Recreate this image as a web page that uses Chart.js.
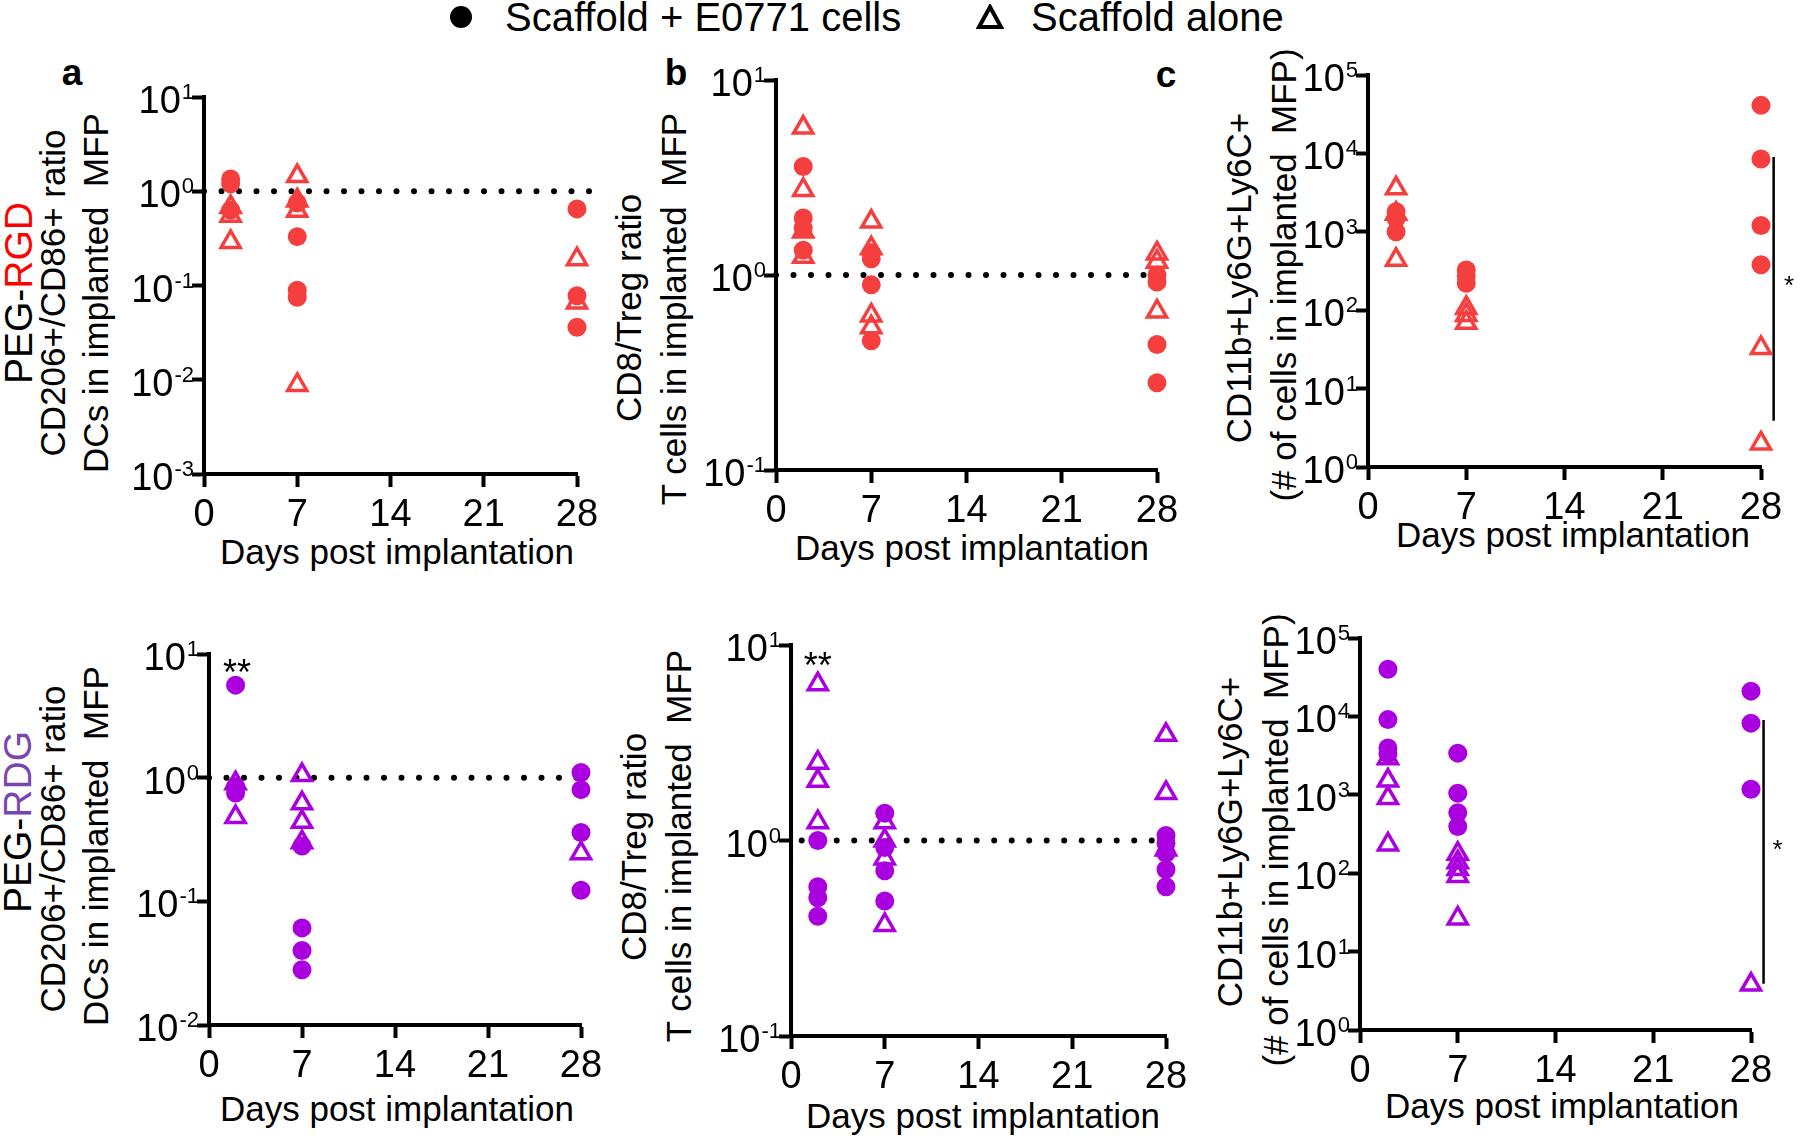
<!DOCTYPE html>
<html>
<head>
<meta charset="utf-8">
<script src="https://cdn.jsdelivr.net/npm/chart.js@4.4.1/dist/chart.umd.min.js"></script>
<style>
html, body { margin: 0; padding: 0; background: #fff; width: 1800px; height: 1138px; overflow: hidden; }
body { position: relative; font-family: "Liberation Sans", Arial, sans-serif; color: #000; }
canvas { position: absolute; }
.t { position: absolute; white-space: pre; line-height: 1; }
.rot { transform: translate(-50%, -50%) rotate(-90deg); }
.hz { transform: translate(-50%, -50%); }
.lft { transform: translate(0, -50%); }
</style>
</head>
<body>

<div id="legend-dot" style="position:absolute;left:450px;top:6px;width:22px;height:22px;border-radius:50%;background:#000;"></div>
<div class="t lft" style="left:505px;top:17px;font-size:40px;">Scaffold + E0771 cells</div>
<svg style="position:absolute;left:976px;top:4px;" width="28" height="26"><polygon points="14,3 25,23 3,23" fill="none" stroke="#000" stroke-width="4"/></svg>
<div class="t lft" style="left:1031px;top:17px;font-size:40px;">Scaffold alone</div>

<div class="t hz" style="left:72px;top:72px;font-size:37px;font-weight:bold;">a</div>
<div class="t hz" style="left:676px;top:72px;font-size:37px;font-weight:bold;">b</div>
<div class="t hz" style="left:1166px;top:74px;font-size:37px;font-weight:bold;">c</div>

<div class="t rot" style="left:18px;top:293px;font-size:39px;">PEG-<span style="color:#ff0000">RGD</span></div>
<div class="t rot" style="left:52px;top:293px;font-size:35px;">CD206+/CD86+ ratio</div>
<div class="t rot" style="left:95px;top:293px;font-size:35px;">DCs in implanted  MFP</div>
<div class="t rot" style="left:628px;top:308px;font-size:35px;">CD8/Treg ratio</div>
<div class="t rot" style="left:673px;top:309px;font-size:35px;">T cells in implanted  MFP</div>
<div class="t rot" style="left:1238px;top:278px;font-size:35px;">CD11b+Ly6G+Ly6C+</div>
<div class="t rot" style="left:1283px;top:275px;font-size:35px;">(# of cells in implanted  MFP)</div>

<div class="t rot" style="left:17px;top:822px;font-size:39px;">PEG-<span style="color:#7b45b0">RDG</span></div>
<div class="t rot" style="left:52px;top:849px;font-size:35px;">CD206+/CD86+ ratio</div>
<div class="t rot" style="left:95px;top:846px;font-size:35px;">DCs in implanted  MFP</div>
<div class="t rot" style="left:633px;top:847px;font-size:35px;">CD8/Treg ratio</div>
<div class="t rot" style="left:678px;top:846px;font-size:35px;">T cells in implanted  MFP</div>
<div class="t rot" style="left:1229px;top:842px;font-size:35px;">CD11b+Ly6G+Ly6C+</div>
<div class="t rot" style="left:1275px;top:840px;font-size:35px;">(# of cells in implanted  MFP)</div>

<div class="t hz" style="left:397px;top:551px;font-size:35px;">Days post implantation</div>
<div class="t hz" style="left:972px;top:547px;font-size:35px;">Days post implantation</div>
<div class="t hz" style="left:1573px;top:534px;font-size:35px;">Days post implantation</div>
<div class="t hz" style="left:397px;top:1108px;font-size:35px;">Days post implantation</div>
<div class="t hz" style="left:983px;top:1115px;font-size:35px;">Days post implantation</div>
<div class="t hz" style="left:1562px;top:1105px;font-size:35px;">Days post implantation</div>

<canvas id="a1"></canvas>
<canvas id="b1"></canvas>
<canvas id="c1"></canvas>
<canvas id="a2"></canvas>
<canvas id="b2"></canvas>
<canvas id="c2"></canvas>

<script>
// x ticks (days) and y decade ticks
var dayTicks = [0, 7, 14, 21, 28];
var dcTicksRgd = [1e-3, 1e-2, 1e-1, 1, 10];
var dcTicksRdg = [1e-2, 1e-1, 1, 10];
var tTicks = [1e-1, 1, 10];
var mdscTicks = [1, 10, 100, 1000, 10000, 100000];

// [day, value]
// PEG-RGD row
var rgdDcCells = [[2, 1.35], [2, 1.2], [2, 0.63], [7, 0.75], [7, 0.33], [7, 0.089], [7, 0.075], [28, 0.65], [28, 0.078], [28, 0.036]];
var rgdDcAlone = [[2, 0.68], [2, 0.55], [2, 0.29], [7, 1.45], [7, 0.8], [7, 0.62], [7, 0.0088], [28, 0.19], [28, 0.066]];
var rgdTCells = [[2, 3.6], [2, 1.96], [2, 1.74], [2, 1.34], [7, 1.3], [7, 1.21], [7, 0.89], [7, 0.46], [28, 1.0], [28, 0.92], [28, 0.44], [28, 0.28]];
var rgdTAlone = [[2, 5.7], [2, 2.73], [2, 1.67], [2, 1.24], [7, 1.88], [7, 1.37], [7, 0.62], [7, 0.54], [28, 1.29], [28, 1.17], [28, 0.65]];
var rgdMdscCells = [[2, 1800], [2, 1480], [2, 1000], [7, 326], [7, 270], [7, 220], [28, 41000], [28, 8500], [28, 1200], [28, 380]];
var rgdMdscAlone = [[2, 3590], [2, 1700], [2, 440], [7, 107], [7, 87], [7, 69], [28, 33], [28, 2.0]];
// PEG-RDG row
var rdgDcCells = [[2, 5.6], [2, 0.85], [2, 0.75], [7, 0.28], [7, 0.061], [7, 0.04], [7, 0.028], [28, 1.1], [28, 0.8], [28, 0.36], [28, 0.123]];
var rdgDcAlone = [[2, 0.9], [2, 0.48], [7, 1.05], [7, 0.62], [7, 0.44], [7, 0.3], [28, 0.245]];
var rdgTCells = [[2, 1.0], [2, 0.58], [2, 0.51], [2, 0.41], [7, 1.38], [7, 0.92], [7, 0.7], [7, 0.49], [28, 1.06], [28, 0.97], [28, 0.86], [28, 0.71], [28, 0.58]];
var rdgTAlone = [[2, 6.3], [2, 2.5], [2, 2.02], [2, 1.24], [7, 1.24], [7, 1.0], [7, 0.81], [7, 0.37], [28, 3.47], [28, 1.75], [28, 0.9]];
var rdgMdscCells = [[2, 40000], [2, 9100], [2, 3960], [2, 3330], [7, 3400], [7, 1050], [7, 590], [7, 395], [28, 21000], [28, 8200], [28, 1180]];
var rdgMdscAlone = [[2, 2930], [2, 1520], [2, 910], [2, 233], [7, 177], [7, 138], [7, 113], [7, 92], [7, 26.5], [28, 3.8]];

// dotted ratio = 1 lines, significance bars and stars
var refLineA1 = [[0, 1], [29.4, 1]];
var refLineB1 = [[0, 1], [28.7, 1]];
var refLineA2 = [[0, 1], [28.5, 1]];
var refLineB2 = [[0.8, 1], [28.7, 1]];
var sigBarC1 = [[28.9, 9000], [28.9, 3.9]];
var sigBarC2 = [[28.9, 9000], [28.9, 3.9]];
var starsA2 = [[2.1, 6.8, '**']];
var starsB2 = [[2.0, 7.6, '**']];
var starsC1 = [[30.0, 200, '*']];
var starsC2 = [[29.9, 192, '*']];

var RED = '#f53f3f';
var PURPLE = '#aa00e0';
var FONT = '"Liberation Sans", Arial, sans-serif';
var WY = 120, PAD_TOP = 30, HX = 70, PAD_R = 40;

function pts(arr) {
  return arr.map(function (p) { return { x: p[0], y: p[1] }; });
}

// draws 10^n labels next to the y ticks, with a raised exponent
var decadeLabels = {
  id: 'decadeLabels',
  afterDraw: function (chart) {
    var s = chart.scales.y;
    var ctx = chart.ctx;
    ctx.save();
    ctx.fillStyle = '#000';
    ctx.textAlign = 'right';
    ctx.textBaseline = 'alphabetic';
    s.ticks.forEach(function (t) {
      var py = s.getPixelForValue(t.value);
      var xr = s.right - 10;
      var exp = String(Math.round(Math.log10(t.value)));
      ctx.font = '22px ' + FONT;
      ctx.fillText(exp, xr, py + 2);
      var w = ctx.measureText(exp).width;
      ctx.font = '38px ' + FONT;
      ctx.fillText('10', xr - w - 1, py + 16);
    });
    ctx.restore();
  }
};

// asterisks placed with the chart scales
var starNotes = {
  id: 'starNotes',
  afterDraw: function (chart, args, opts) {
    var ctx = chart.ctx;
    (opts.items || []).forEach(function (it) {
      var px = chart.scales.x.getPixelForValue(it[0]);
      var py = chart.scales.y.getPixelForValue(it[1]);
      ctx.save();
      ctx.fillStyle = '#000';
      ctx.font = (it[2].length > 1 ? 36 : 26) + 'px ' + FONT;
      ctx.textAlign = 'center';
      ctx.textBaseline = 'middle';
      ctx.fillText(it[2], px, py);
      ctx.restore();
    });
  }
};

function makePanel(id, box, yTicks, color, cells, alone, refLine, sigBar, stars) {
  var axisX = box[0], x28 = box[1], yTop = box[2], yBottom = box[3];
  var cv = document.getElementById(id);
  var w = WY + (x28 - axisX) + PAD_R;
  var h = PAD_TOP + (yBottom - yTop) + HX;
  cv.width = w;
  cv.height = h;
  cv.style.left = (axisX - WY) + 'px';
  cv.style.top = (yTop - PAD_TOP) + 'px';
  cv.style.width = w + 'px';
  cv.style.height = h + 'px';

  var datasets = [
    {
      label: 'Scaffold alone',
      data: pts(alone),
      showLine: false,
      clip: false,
      pointStyle: 'triangle',
      pointRadius: 11,
      pointBorderWidth: 3.5,
      pointBorderColor: color,
      pointBackgroundColor: 'rgba(0,0,0,0)'
    },
    {
      label: 'Scaffold + E0771 cells',
      data: pts(cells),
      showLine: false,
      clip: false,
      pointStyle: 'circle',
      pointRadius: 9.5,
      pointBorderWidth: 0,
      pointBackgroundColor: color
    }
  ];
  if (refLine) {
    datasets.push({
      type: 'line',
      data: pts(refLine),
      borderColor: '#000',
      borderWidth: 6,
      borderDash: [0, 17.5],
      borderCapStyle: 'round',
      pointRadius: 0,
      clip: false
    });
  }
  if (sigBar) {
    datasets.push({
      type: 'line',
      data: pts(sigBar),
      borderColor: '#000',
      borderWidth: 2.5,
      pointRadius: 0,
      clip: false
    });
  }

  var axisBorder = { display: true, width: 4, color: '#000' };

  return new Chart(cv, {
    type: 'scatter',
    data: { datasets: datasets },
    plugins: [decadeLabels, starNotes],
    options: {
      responsive: false,
      animation: false,
      layout: { padding: { top: PAD_TOP, right: PAD_R, left: 0, bottom: 0 } },
      plugins: {
        legend: { display: false },
        tooltip: { enabled: false },
        starNotes: { items: stars || [] }
      },
      scales: {
        x: {
          type: 'linear',
          min: 0,
          max: 28,
          afterFit: function (s) { s.height = HX; },
          afterBuildTicks: function (s) { s.ticks = dayTicks.map(function (v) { return { value: v }; }); },
          ticks: { font: { size: 38, family: FONT }, color: '#000', padding: 6, maxRotation: 0, autoSkip: false },
          grid: { display: true, drawOnChartArea: false, drawTicks: true, tickLength: 13, tickWidth: 4, color: '#000' },
          border: axisBorder
        },
        y: {
          type: 'logarithmic',
          min: yTicks[0],
          max: yTicks[yTicks.length - 1],
          afterFit: function (s) { s.width = WY; },
          afterBuildTicks: function (s) { s.ticks = yTicks.map(function (v) { return { value: v }; }); },
          ticks: { callback: function () { return ''; } },
          grid: { display: true, drawOnChartArea: false, drawTicks: true, tickLength: 12, tickWidth: 4, color: '#000' },
          border: axisBorder
        }
      }
    }
  });
}

makePanel('a1', [204, 577, 97, 474], dcTicksRgd, RED, rgdDcCells, rgdDcAlone, refLineA1, null, null);
makePanel('b1', [776, 1157, 80, 470], tTicks, RED, rgdTCells, rgdTAlone, refLineB1, null, null);
makePanel('c1', [1368, 1761, 75, 467], mdscTicks, RED, rgdMdscCells, rgdMdscAlone, null, sigBarC1, starsC1);
makePanel('a2', [209, 581, 654, 1025], dcTicksRdg, PURPLE, rdgDcCells, rdgDcAlone, refLineA2, null, starsA2);
makePanel('b2', [791, 1166, 645, 1036], tTicks, PURPLE, rdgTCells, rdgTAlone, refLineB2, null, starsB2);
makePanel('c2', [1360, 1751, 638, 1030], mdscTicks, PURPLE, rdgMdscCells, rdgMdscAlone, null, sigBarC2, starsC2);
</script>
</body>
</html>
